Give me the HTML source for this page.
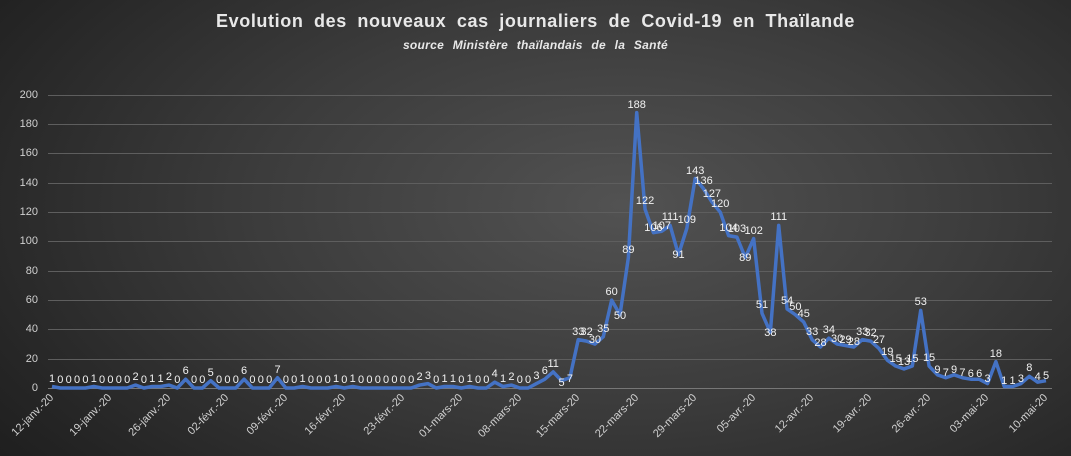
<!DOCTYPE html>
<html><head><meta charset="utf-8"><style>
body{margin:0}
#c{position:relative;width:1071px;height:456px;overflow:hidden;background:radial-gradient(ellipse 75% 95% at 58% 45%,#525252 0%,#3c3c3c 45%,#252525 85%,#1d1d1d 100%);font-family:"Liberation Sans",sans-serif;color:#e8e8e8}
.t{position:absolute;left:0;width:1071px;text-align:center;font-weight:bold}
.l{position:absolute;font-size:11px;color:#f2f2f2;left:calc(52px + var(--i)*8.353px);top:calc(388px - var(--v)*1.465px - 14px);transform:translateX(-50%);white-space:nowrap;line-height:12px}
.y{position:absolute;left:0;width:38px;text-align:right;font-size:11px;color:#d0d0d0}
.xw{position:absolute;top:396px;width:0;height:0;transform:rotate(-45deg);transform-origin:0 0}
.xw span{position:absolute;right:0;top:-6px;font-size:11px;color:#d0d0d0;white-space:nowrap;line-height:12px}
</style></head><body><div id="c">
<div class="t" style="top:11px;font-size:18px;letter-spacing:0.6px;word-spacing:5px">Evolution des nouveaux cas journaliers de Covid-19 en Thaïlande</div>
<div class="t" style="top:38px;font-size:12px;font-style:italic;word-spacing:5px;letter-spacing:0.3px">source Ministère thaïlandais de la Santé</div>
<svg width="1071" height="456" style="position:absolute;left:0;top:0">
<g stroke="#5e5e5e" stroke-width="1">
<line x1="48" x2="1052" y1="95.5" y2="95.5"/><line x1="48" x2="1052" y1="124.5" y2="124.5"/><line x1="48" x2="1052" y1="153.5" y2="153.5"/><line x1="48" x2="1052" y1="183.5" y2="183.5"/><line x1="48" x2="1052" y1="212.5" y2="212.5"/><line x1="48" x2="1052" y1="241.5" y2="241.5"/><line x1="48" x2="1052" y1="271.5" y2="271.5"/><line x1="48" x2="1052" y1="300.5" y2="300.5"/><line x1="48" x2="1052" y1="329.5" y2="329.5"/><line x1="48" x2="1052" y1="359.5" y2="359.5"/><line x1="48" x2="1052" y1="388.5" y2="388.5" stroke="#777"/>
</g>
<g transform="translate(52,388) scale(8.353,-1.465)">
<polyline fill="none" stroke="#4472c4" stroke-width="3.5" stroke-linejoin="round" vector-effect="non-scaling-stroke" points="0,1 1,0 2,0 3,0 4,0 5,1 6,0 7,0 8,0 9,0 10,2 11,0 12,1 13,1 14,2 15,0 16,6 17,0 18,0 19,5 20,0 21,0 22,0 23,6 24,0 25,0 26,0 27,7 28,0 29,0 30,1 31,0 32,0 33,0 34,1 35,0 36,1 37,0 38,0 39,0 40,0 41,0 42,0 43,0 44,2 45,3 46,0 47,1 48,1 49,0 50,1 51,0 52,0 53,4 54,1 55,2 56,0 57,0 58,3 59,6 60,11 61,5 62,7 63,33 64,32 65,30 66,35 67,60 68,50 69,89 70,188 71,122 72,106 73,107 74,111 75,91 76,109 77,143 78,136 79,127 80,120 81,104 82,103 83,89 84,102 85,51 86,38 87,111 88,54 89,50 90,45 91,33 92,28 93,34 94,30 95,29 96,28 97,33 98,32 99,27 100,19 101,15 102,13 103,15 104,53 105,15 106,9 107,7 108,9 109,7 110,6 111,6 112,3 113,18 114,1 115,1 116,3 117,8 118,4 119,5"/>
</g>
</svg>
<div class="y" style="top:89px">200</div><div class="y" style="top:118px">180</div><div class="y" style="top:147px">160</div><div class="y" style="top:177px">140</div><div class="y" style="top:206px">120</div><div class="y" style="top:235px">100</div><div class="y" style="top:265px">80</div><div class="y" style="top:294px">60</div><div class="y" style="top:323px">40</div><div class="y" style="top:353px">20</div><div class="y" style="top:382px">0</div>
<span class="l" style="--i:0;--v:1">1</span><span class="l" style="--i:1;--v:0">0</span><span class="l" style="--i:2;--v:0">0</span><span class="l" style="--i:3;--v:0">0</span><span class="l" style="--i:4;--v:0">0</span><span class="l" style="--i:5;--v:1">1</span><span class="l" style="--i:6;--v:0">0</span><span class="l" style="--i:7;--v:0">0</span><span class="l" style="--i:8;--v:0">0</span><span class="l" style="--i:9;--v:0">0</span><span class="l" style="--i:10;--v:2">2</span><span class="l" style="--i:11;--v:0">0</span><span class="l" style="--i:12;--v:1">1</span><span class="l" style="--i:13;--v:1">1</span><span class="l" style="--i:14;--v:2">2</span><span class="l" style="--i:15;--v:0">0</span><span class="l" style="--i:16;--v:6">6</span><span class="l" style="--i:17;--v:0">0</span><span class="l" style="--i:18;--v:0">0</span><span class="l" style="--i:19;--v:5">5</span><span class="l" style="--i:20;--v:0">0</span><span class="l" style="--i:21;--v:0">0</span><span class="l" style="--i:22;--v:0">0</span><span class="l" style="--i:23;--v:6">6</span><span class="l" style="--i:24;--v:0">0</span><span class="l" style="--i:25;--v:0">0</span><span class="l" style="--i:26;--v:0">0</span><span class="l" style="--i:27;--v:7">7</span><span class="l" style="--i:28;--v:0">0</span><span class="l" style="--i:29;--v:0">0</span><span class="l" style="--i:30;--v:1">1</span><span class="l" style="--i:31;--v:0">0</span><span class="l" style="--i:32;--v:0">0</span><span class="l" style="--i:33;--v:0">0</span><span class="l" style="--i:34;--v:1">1</span><span class="l" style="--i:35;--v:0">0</span><span class="l" style="--i:36;--v:1">1</span><span class="l" style="--i:37;--v:0">0</span><span class="l" style="--i:38;--v:0">0</span><span class="l" style="--i:39;--v:0">0</span><span class="l" style="--i:40;--v:0">0</span><span class="l" style="--i:41;--v:0">0</span><span class="l" style="--i:42;--v:0">0</span><span class="l" style="--i:43;--v:0">0</span><span class="l" style="--i:44;--v:2">2</span><span class="l" style="--i:45;--v:3">3</span><span class="l" style="--i:46;--v:0">0</span><span class="l" style="--i:47;--v:1">1</span><span class="l" style="--i:48;--v:1">1</span><span class="l" style="--i:49;--v:0">0</span><span class="l" style="--i:50;--v:1">1</span><span class="l" style="--i:51;--v:0">0</span><span class="l" style="--i:52;--v:0">0</span><span class="l" style="--i:53;--v:4">4</span><span class="l" style="--i:54;--v:1">1</span><span class="l" style="--i:55;--v:2">2</span><span class="l" style="--i:56;--v:0">0</span><span class="l" style="--i:57;--v:0">0</span><span class="l" style="--i:58;--v:3">3</span><span class="l" style="--i:59;--v:6">6</span><span class="l" style="--i:60;--v:11">11</span><span class="l" style="--i:61;--v:-2">5</span><span class="l" style="--i:62;--v:1">7</span><span class="l" style="--i:63;--v:33">33</span><span class="l" style="--i:64;--v:33">32</span><span class="l" style="--i:65;--v:27">30</span><span class="l" style="--i:66;--v:35">35</span><span class="l" style="--i:67;--v:60">60</span><span class="l" style="--i:68;--v:44">50</span><span class="l" style="--i:69;--v:89">89</span><span class="l" style="--i:70;--v:188">188</span><span class="l" style="--i:71;--v:122">122</span><span class="l" style="--i:72;--v:104">106</span><span class="l" style="--i:73;--v:105">107</span><span class="l" style="--i:74;--v:111">111</span><span class="l" style="--i:75;--v:85">91</span><span class="l" style="--i:76;--v:109">109</span><span class="l" style="--i:77;--v:143">143</span><span class="l" style="--i:78;--v:136">136</span><span class="l" style="--i:79;--v:127">127</span><span class="l" style="--i:80;--v:120">120</span><span class="l" style="--i:81;--v:104">104</span><span class="l" style="--i:82;--v:103">103</span><span class="l" style="--i:83;--v:83">89</span><span class="l" style="--i:84;--v:102">102</span><span class="l" style="--i:85;--v:51">51</span><span class="l" style="--i:86;--v:32">38</span><span class="l" style="--i:87;--v:111">111</span><span class="l" style="--i:88;--v:54">54</span><span class="l" style="--i:89;--v:50">50</span><span class="l" style="--i:90;--v:45">45</span><span class="l" style="--i:91;--v:33">33</span><span class="l" style="--i:92;--v:25">28</span><span class="l" style="--i:93;--v:34">34</span><span class="l" style="--i:94;--v:28">30</span><span class="l" style="--i:95;--v:27">29</span><span class="l" style="--i:96;--v:26">28</span><span class="l" style="--i:97;--v:33">33</span><span class="l" style="--i:98;--v:32">32</span><span class="l" style="--i:99;--v:27">27</span><span class="l" style="--i:100;--v:19">19</span><span class="l" style="--i:101;--v:14">15</span><span class="l" style="--i:102;--v:12">13</span><span class="l" style="--i:103;--v:14">15</span><span class="l" style="--i:104;--v:53">53</span><span class="l" style="--i:105;--v:15">15</span><span class="l" style="--i:106;--v:7">9</span><span class="l" style="--i:107;--v:5">7</span><span class="l" style="--i:108;--v:7">9</span><span class="l" style="--i:109;--v:5">7</span><span class="l" style="--i:110;--v:4">6</span><span class="l" style="--i:111;--v:4">6</span><span class="l" style="--i:112;--v:1">3</span><span class="l" style="--i:113;--v:18">18</span><span class="l" style="--i:114;--v:-1">1</span><span class="l" style="--i:115;--v:-1">1</span><span class="l" style="--i:116;--v:1">3</span><span class="l" style="--i:117;--v:8">8</span><span class="l" style="--i:118;--v:2">4</span><span class="l" style="--i:119;--v:3">5</span>
<div class="xw" style="left:52px"><span>12-janv.-20</span></div><div class="xw" style="left:110px"><span>19-janv.-20</span></div><div class="xw" style="left:169px"><span>26-janv.-20</span></div><div class="xw" style="left:227px"><span>02-févr.-20</span></div><div class="xw" style="left:286px"><span>09-févr.-20</span></div><div class="xw" style="left:344px"><span>16-févr.-20</span></div><div class="xw" style="left:403px"><span>23-févr.-20</span></div><div class="xw" style="left:461px"><span>01-mars-20</span></div><div class="xw" style="left:520px"><span>08-mars-20</span></div><div class="xw" style="left:578px"><span>15-mars-20</span></div><div class="xw" style="left:637px"><span>22-mars-20</span></div><div class="xw" style="left:695px"><span>29-mars-20</span></div><div class="xw" style="left:754px"><span>05-avr.-20</span></div><div class="xw" style="left:812px"><span>12-avr.-20</span></div><div class="xw" style="left:870px"><span>19-avr.-20</span></div><div class="xw" style="left:929px"><span>26-avr.-20</span></div><div class="xw" style="left:987px"><span>03-mai-20</span></div><div class="xw" style="left:1046px"><span>10-mai-20</span></div>
</div></body></html>
